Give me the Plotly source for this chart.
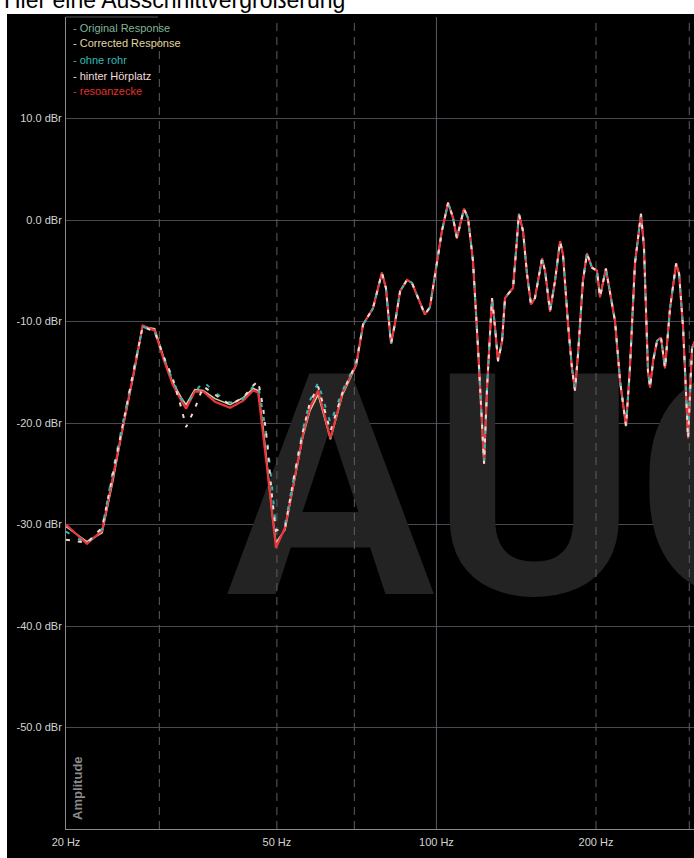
import math
import plotly.graph_objects as go

# ---- measurement data -------------------------------------------------------
# Low-frequency part, where the individual measurements still differ (Hz)
freq_low = [20.0, 21.9, 23.4, 24.5, 25.6, 26.8, 27.9, 29.4, 30.6, 31.8, 33.0, 33.7,
            35.0, 36.3, 38.2, 40.8, 43.2, 45.1, 46.1, 47.1, 47.9, 49.0, 49.8, 51.8,
            53.9, 56.0, 57.7, 59.8, 61.0, 63.1, 66.5, 70.6]

corrected_low = [-30.2, -31.7, -30.8, -25.8, -20.5, -15.4, -10.5, -10.7, -13.6, -16.0, -17.5, -18.2,
                 -16.7, -16.8, -17.6, -18.2, -17.5, -16.6, -16.8, -20.5, -24.0, -29.0, -31.8, -30.5,
                 -25.8, -21.3, -18.8, -17.2, -18.8, -21.6, -17.2, -14.3]

ohne_rohr_low = [-30.7, -31.9, -30.4, -24.8, -20.0, -15.0, -10.5, -11.0, -13.6, -15.8, -17.6, -18.2,
                 -17.0, -15.9, -17.0, -18.0, -17.6, -16.4, -16.2, -19.0, -21.5, -26.5, -30.6, -30.0,
                 -25.0, -20.6, -17.8, -16.0, -17.5, -20.0, -16.8, -14.0]

hinter_hoerplatz_low = [-31.5, -31.8, -30.3, -25.0, -20.0, -15.0, -10.5, -11.0, -13.5, -15.6, -18.5, -20.4,
                        -18.6, -16.4, -17.2, -18.2, -17.5, -16.3, -15.9, -18.5, -21.8, -27.5, -30.6, -30.3,
                        -25.2, -20.8, -18.0, -16.4, -18.0, -20.8, -17.0, -14.1]

resoanzecke_low = [-30.0, -31.9, -30.6, -25.5, -20.3, -15.2, -10.4, -10.9, -13.8, -16.2, -17.8, -18.6,
                   -16.9, -16.9, -17.9, -18.5, -17.8, -16.8, -17.0, -21.0, -24.4, -29.0, -32.3, -30.3,
                   -25.5, -21.1, -18.5, -16.8, -18.5, -21.5, -17.0, -14.2]

# Upper part, common to all measurements (Hz / dBr)
freq_high = [72.7, 75.9, 78.9, 80.3, 82.1, 83.5, 85.4, 88.0, 89.9, 95.1, 97.2, 100.2,
             102.4, 105.2, 107.5, 109.3, 112.7, 114.7, 117.2, 119.8, 121.9, 123.0, 124.6, 127.3,
             129.0, 130.7, 133.0, 134.7, 136.5, 139.5, 141.3, 143.1, 145.7, 148.2, 150.8, 153.4,
             155.5, 158.2, 160.3, 163.8, 167.4, 171.1, 173.3, 177.1, 180.2, 182.6, 185.0, 189.0,
             192.3, 196.6, 200.9, 203.5, 208.8, 212.5, 217.3, 222.1, 227.9, 231.8, 236.9, 243.2,
             246.4, 250.7, 253.0, 256.3, 260.8, 265.3, 270.0, 275.9, 283.3, 287.0, 292.0, 298.4,
             303.6, 310.0]

level_high = [-10.3, -8.7, -5.2, -6.7, -12.2, -10.2, -7.0, -5.9, -6.2, -9.3, -8.6, -4.3,
              -1.1, 1.7, 0.2, -1.8, 1.1, 0.2, -4.0, -12.6, -19.8, -24.0, -16.5, -7.7,
              -10.6, -13.9, -11.9, -7.7, -7.3, -6.7, -3.1, 0.6, -1.1, -5.3, -8.3, -7.7,
              -6.0, -3.8, -5.0, -9.0, -6.0, -2.1, -3.4, -10.2, -14.6, -16.8, -13.2, -6.0,
              -3.3, -4.7, -5.0, -7.6, -4.8, -7.0, -10.0, -15.9, -20.3, -14.6, -4.3, 0.6,
              -2.7, -14.9, -16.5, -13.9, -11.9, -11.6, -14.6, -8.7, -4.3, -5.3, -10.6, -21.5,
              -12.6, -11.5]

# Axis ticks
x_tick_vals = [20, 50, 100, 200]
x_tick_text = ["20 Hz", "50 Hz", "100 Hz", "200 Hz"]
y_tick_vals = [10, 0, -10, -20, -30, -40, -50]
y_tick_text = ["10.0 dBr", "0.0 dBr", "-10.0 dBr", "-20.0 dBr", "-30.0 dBr", "-40.0 dBr", "-50.0 dBr"]
dashed_grid_freqs = [30, 50, 70, 200, 300]
solid_grid_freqs = [100]

legend_labels = ["- Original Response", "- Corrected Response", "- ohne rohr",
                 "- hinter Hörplatz", "- resoanzecke"]
legend_colors = ["#7fb49a", "#e2d6a2", "#36b9b9", "#f3dcdc", "#e0302f"]

# ---- layout geometry ------------------------------------------------------
W, H = 694, 858
ML, MR, MT, MB = 66, 0, 17, 29
PW, PH = W - ML - MR, H - MT - MB
Y_MIN, Y_MAX = -60, 20
X_MIN, X_MAX = 20.0, 306.2
FONT = "Arial, Liberation Sans, sans-serif"


def px(xp):
    return (xp - ML) / PW


def py(yp):
    return (H - MB - yp) / PH


def vlines(freqs):
    xs, ys = [], []
    for f in freqs:
        xs += [f, f, None]
        ys += [Y_MIN, Y_MAX, None]
    return xs, ys


fig = go.Figure()

# Background watermark
fig.add_trace(go.Scatter(
    x=[152.0], y=[-29.2], mode="text", text=["AUC"],
    textfont=dict(family="Roboto, Liberation Sans, Arial, sans-serif", size=310,
                  color="#232323", weight=700),
    hoverinfo="skip", showlegend=False,
))

# Vertical grid lines
gx, gy = vlines(dashed_grid_freqs)
fig.add_trace(go.Scatter(x=gx, y=gy, mode="lines", hoverinfo="skip", showlegend=False,
                         line=dict(color="#5e5e5e", width=1, dash="8px,6px")))
gx, gy = vlines(solid_grid_freqs)
fig.add_trace(go.Scatter(x=gx, y=gy, mode="lines", hoverinfo="skip", showlegend=False,
                         line=dict(color="#5a5a66", width=1)))

freq_all = freq_low + freq_high
series = [
    ("Corrected Response", corrected_low, "#dccb9f", 1.6, "solid"),
    ("resoanzecke", resoanzecke_low, "#e8363b", 2.2, "solid"),
    ("ohne rohr", ohne_rohr_low, "#2fb7b7", 2.0, "4px,10px"),
    ("hinter Hörplatz", hinter_hoerplatz_low, "#f4d6d0", 2.0, "4px,8px"),
]
for name, low, color, width, dash in series:
    fig.add_trace(go.Scatter(
        x=freq_all, y=low + level_high, mode="lines", name=name,
        line=dict(color=color, width=width, dash=dash), showlegend=False,
    ))

shapes = [
    # white page strip above and left of the dark panel
    dict(type="rect", xref="paper", yref="paper", x0=px(0), x1=px(W), y0=py(14), y1=py(0),
         fillcolor="white", line=dict(width=0), layer="above"),
    dict(type="rect", xref="paper", yref="paper", x0=px(0), x1=px(7), y0=py(H), y1=py(0),
         fillcolor="white", line=dict(width=0), layer="above"),
    # legend frame (top edge)
    dict(type="line", xref="paper", yref="paper", x0=px(66), x1=px(158), y0=py(17), y1=py(17),
         line=dict(color="#555555", width=1), layer="above"),
]

annotations = [
    dict(text="Hier eine Ausschnittvergrößerung", xref="paper", yref="paper",
         x=px(2), y=py(15), xanchor="left", yanchor="bottom", showarrow=False,
         font=dict(family=FONT, size=23, color="black")),
    dict(text="<b>Amplitude</b>", xref="paper", yref="paper", x=px(77), y=py(788),
         xanchor="center", yanchor="middle", textangle=-90, showarrow=False,
         font=dict(family=FONT, size=13, color="#8a8a8a")),
]
legend_y = [28, 43, 60, 76, 91]
for label, color, yy in zip(legend_labels, legend_colors, legend_y):
    annotations.append(dict(text=label, xref="paper", yref="paper", x=px(71), y=py(yy),
                            xanchor="left", yanchor="middle", showarrow=False,
                            font=dict(family=FONT, size=11, color=color)))

fig.update_layout(
    width=W, height=H,
    margin=dict(l=ML, r=MR, t=MT, b=MB, pad=0),
    paper_bgcolor="black", plot_bgcolor="black",
    shapes=shapes, annotations=annotations,
    showlegend=False,
    xaxis=dict(type="log", range=[math.log10(X_MIN), math.log10(X_MAX)],
               tickvals=x_tick_vals, ticktext=x_tick_text,
               showgrid=False, zeroline=False, showline=True, linecolor="#8a8a8a", linewidth=1,
               ticks="outside", ticklen=3, tickcolor="rgba(0,0,0,0)",
               tickfont=dict(family=FONT, size=11, color="#d4d4d4")),
    yaxis=dict(range=[Y_MIN, Y_MAX], tickvals=y_tick_vals, ticktext=y_tick_text,
               showgrid=True, gridcolor="#4a4a56", gridwidth=1, zeroline=False,
               showline=True, linecolor="#8a8a8a", linewidth=1,
               ticks="outside", ticklen=1, tickcolor="rgba(0,0,0,0)",
               tickfont=dict(family=FONT, size=11, color="#d4d4d4")),
)

fig.write_html("out.html")
